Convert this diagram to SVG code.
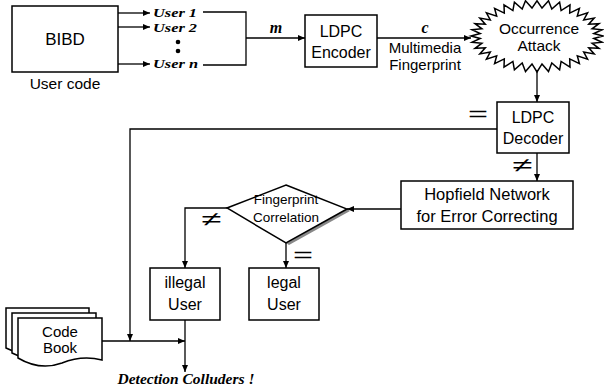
<svg xmlns="http://www.w3.org/2000/svg" width="604" height="387" viewBox="0 0 604 387">
<defs>
<marker id="a" markerWidth="8" markerHeight="8" refX="7" refY="4" orient="auto" markerUnits="userSpaceOnUse"><path d="M0,1 L7,4 L0,7 Z" fill="#000"/></marker>
<style>
.b{fill:#fff;stroke:#000;stroke-width:1.5}
.l{fill:none;stroke:#000;stroke-width:1.3}
.t{font-family:"Liberation Sans",Arial,sans-serif;font-size:15px;text-anchor:middle;fill:#000}
.m{font-size:16px}
.sm{font-size:13.5px}
.s{font-family:"Liberation Serif","Times New Roman",serif;font-weight:bold;font-style:italic;font-size:16px;fill:#000}
.u{font-size:13.5px}
.q{font-family:"Liberation Sans",Arial,sans-serif;font-size:20px;fill:#000}
</style>
</defs>
<rect width="604" height="387" fill="#fff"/>

<g id="bibd">
<rect class="b" x="12" y="6" width="106" height="66"/>
<text class="t" x="65" y="45" style="font-size:17px">BIBD</text>
<text class="t" x="65" y="89" style="font-size:15.5px">User code</text>
</g>

<g id="users">
<text class="s u" x="153" y="17" textLength="44" lengthAdjust="spacingAndGlyphs">User 1</text>
<text class="s u" x="153" y="32" textLength="44" lengthAdjust="spacingAndGlyphs">User 2</text>
<circle cx="178" cy="42" r="2.3"/>
<circle cx="178" cy="51" r="2.3"/>
<text class="s u" x="153" y="68" textLength="45" lengthAdjust="spacingAndGlyphs">User n</text>
</g>

<g id="encoder">
<rect class="b" x="305" y="15" width="72" height="52"/>
<text class="t m" x="341" y="37">LDPC</text>
<text class="t m" x="341" y="58">Encoder</text>
</g>

<g id="attack">
<polygon class="b" stroke-width="1.2" points="603,36 593.8,33.6 602,29.8 592.1,28.8 599,23.7 588.7,24.2 594.2,18 583.7,19.9 587.6,12.9 577.3,16.2 579.4,8.4 569.7,13.1 570,4.8 561.1,10.6 559.6,2.2 551.8,9 548.5,0.8 542,8.1 537,0.8 532,8.1 525.5,0.8 522.2,9 514.4,2.2 512.9,10.6 504,4.8 504.3,13.1 494.6,8.4 496.7,16.2 486.4,12.9 490.3,19.9 479.8,18 485.3,24.2 475,23.7 481.9,28.8 472,29.8 480.2,33.6 471,36 480.2,38.4 472,42.2 481.9,43.2 475,48.3 485.3,47.8 479.8,54 490.3,52.1 486.4,59.1 496.7,55.8 494.6,63.6 504.3,58.9 504,67.2 512.9,61.4 514.4,69.8 522.2,63 525.5,71.5 532,63.9 537,72 542,63.9 548.5,71.5 551.8,63 559.6,69.8 561.1,61.4 570,67.2 569.7,58.9 579.4,63.6 577.3,55.8 587.6,59.1 583.7,52.1 594.2,54 588.7,47.8 599,48.3 592.1,43.2 602,42.2 593.8,38.4"/>
<text class="t" x="539" y="34" style="font-size:15.5px">Occurrence</text>
<text class="t" x="539" y="51" style="font-size:15.5px">Attack</text>
</g>

<g id="decoder">
<rect class="b" x="497" y="102" width="72" height="51"/>
<text class="t m" x="533" y="123">LDPC</text>
<text class="t m" x="533" y="144">Decoder</text>
</g>

<g id="hopfield">
<rect class="b" x="401" y="181" width="172" height="48"/>
<text class="t" x="487" y="200" style="font-size:16.5px">Hopfield Network</text>
<text class="t" x="487" y="222" style="font-size:16.5px">for Error Correcting</text>
</g>

<g id="correlation">
<polygon points="289,245 350,211 347,209 286,243" fill="#888"/>
<polygon class="b" points="286,185 347,209 286,243 227,208"/>
<text class="t sm" x="286" y="204">Fingerprint</text>
<text class="t sm" x="286" y="222">Correlation</text>
</g>

<g id="illegal">
<rect class="b" x="150" y="268" width="70" height="52"/>
<text class="t m" x="185" y="288">illegal</text>
<text class="t m" x="185" y="310">User</text>
</g>

<g id="legal">
<rect class="b" x="249" y="268" width="70" height="52"/>
<text class="t m" x="284" y="288">legal</text>
<text class="t m" x="284" y="310">User</text>
</g>

<g id="codebook">
<path class="b" d="M6,308 H89 V350 Q70,345 50,352 Q28,359 6,348 Z"/>
<path class="b" d="M12,313 H96 V355 Q76,350 56,357 Q34,364 12,353 Z"/>
<path class="b" d="M18,318 H102 V360 Q82,355 62,363 Q40,371 18,358 Z"/>
<text class="t" x="60" y="337">Code</text>
<text class="t" x="60" y="353">Book</text>
</g>

<g id="connectors">
<line class="l" x1="118" y1="13" x2="150" y2="13" marker-end="url(#a)"/>
<line class="l" x1="118" y1="27" x2="150" y2="27" marker-end="url(#a)"/>
<line class="l" x1="118" y1="64" x2="150" y2="64" marker-end="url(#a)"/>
<polyline class="l" points="203,12 246,12 246,65 203,65"/>
<line class="l" x1="246" y1="38" x2="305" y2="38" marker-end="url(#a)"/>
<text class="s" x="276" y="33" text-anchor="middle">m</text>
<line class="l" x1="377" y1="38" x2="471" y2="38" marker-end="url(#a)"/>
<text class="s" x="425" y="33" text-anchor="middle">c</text>
<text class="t" x="425" y="53">Multimedia</text>
<text class="t" x="425" y="70">Fingerprint</text>
<line class="l" x1="537" y1="72" x2="537" y2="102" marker-end="url(#a)"/>
<polyline class="l" points="497,129 130,129 130,341" marker-end="url(#a)"/>
<text class="q" x="468" y="121" textLength="20" lengthAdjust="spacingAndGlyphs">=</text>
<line class="l" x1="537" y1="153" x2="537" y2="181" marker-end="url(#a)"/>
<text class="q" x="512" y="172" textLength="20" lengthAdjust="spacingAndGlyphs">≠</text>
<line class="l" x1="401" y1="209" x2="347" y2="209" marker-end="url(#a)"/>
<polyline class="l" points="227,208 185,208 185,268" marker-end="url(#a)"/>
<text class="q" x="201" y="226" textLength="20" lengthAdjust="spacingAndGlyphs">≠</text>
<line class="l" x1="286" y1="243" x2="286" y2="268" marker-end="url(#a)"/>
<text class="q" x="293" y="262" textLength="20" lengthAdjust="spacingAndGlyphs">=</text>
<line class="l" x1="102" y1="341" x2="185" y2="341" marker-end="url(#a)"/>
<line class="l" x1="185" y1="320" x2="185" y2="372" marker-end="url(#a)"/>
</g>
<text class="s" x="186" y="384" text-anchor="middle" style="font-size:15.5px">Detection Colluders !</text>
</svg>
